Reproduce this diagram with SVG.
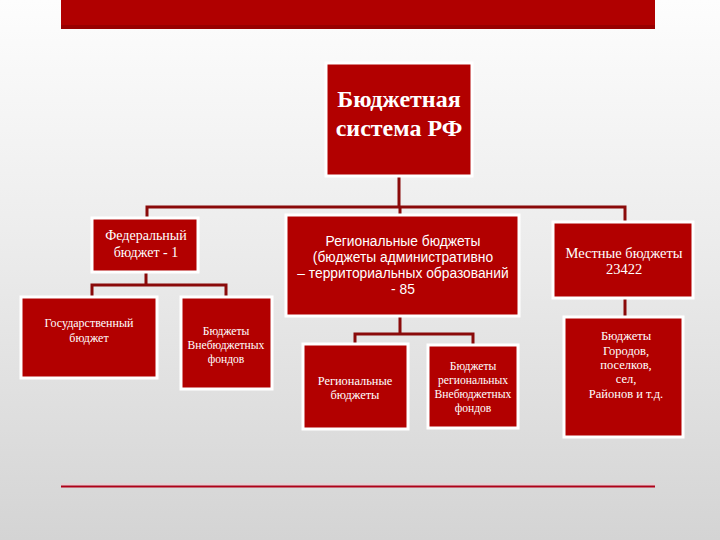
<svg xmlns="http://www.w3.org/2000/svg" width="720" height="540" viewBox="0 0 720 540">
<defs>
<linearGradient id="bg" x1="0" y1="0" x2="0" y2="1">
<stop offset="0" stop-color="#fdfdfd"/>
<stop offset="0.45" stop-color="#ececec"/>
<stop offset="1" stop-color="#d4d4d4"/>
</linearGradient>
</defs>
<style>
.box{fill:#b20000;stroke:#ffffff;stroke-width:3}
.ln{fill:none;stroke:#8a0a0a;stroke-width:3}
.serif{font-family:'Liberation Serif','Times New Roman',serif;font-weight:normal;fill:#ffffff;text-anchor:middle}
.sans{font-family:'Liberation Sans',Arial,sans-serif;fill:#ffffff;text-anchor:middle}
</style>
<rect width="720" height="540" fill="url(#bg)"/>
<rect x="61" y="0" width="594" height="29" fill="#b00000"/>
<rect x="61" y="25" width="594" height="4" fill="#980000"/>
<g id="connectors">
<path class="ln" d="M399 176 V207 M147 218 V207 H625 V222 M400 207 V216"/>
<path class="ln" d="M146 272 V285 M92 297 V285 H226 V297"/>
<path class="ln" d="M400 316 V334 M355 345 V334 H473 V345"/>
<path class="ln" d="M625 298 V318"/>
</g>
<g id="root">
<rect class="box" x="326" y="63" width="146" height="113"/>
<text class="serif" font-size="24" style="font-weight:bold" x="399" y="107">Бюджетная</text>
<text class="serif" font-size="24" style="font-weight:bold" x="399" y="136">система РФ</text>
</g>
<g id="federal">
<rect class="box" x="92" y="218" width="106" height="54"/>
<text class="serif" font-size="14" x="146" y="240">Федеральный</text>
<text class="serif" font-size="14" x="146" y="257">бюджет - 1</text>
</g>
<g id="state">
<rect class="box" x="21" y="297" width="136" height="81"/>
<text class="serif" font-size="12" x="89" y="327">Государственный</text>
<text class="serif" font-size="12" x="89" y="342">бюджет</text>
</g>
<g id="extra">
<rect class="box" x="181" y="297" width="91" height="92"/>
<text class="serif" font-size="11.6" x="226" y="335">Бюджеты</text>
<text class="serif" font-size="11.6" x="226" y="349">Внебюджетных</text>
<text class="serif" font-size="11.6" x="226" y="363">фондов</text>
</g>
<g id="regional">
<rect class="box" x="286" y="215" width="233" height="101"/>
<text class="sans" font-size="13.8" x="403" y="246">Региональные бюджеты</text>
<text class="sans" font-size="13.8" x="403" y="262">(бюджеты административно</text>
<text class="sans" font-size="13.8" x="403" y="278">– территориальных образований</text>
<text class="sans" font-size="13.8" x="403" y="294">- 85</text>
</g>
<g id="regbudgets">
<rect class="box" x="303" y="344" width="105" height="85"/>
<text class="serif" font-size="12.4" x="355" y="385">Региональные</text>
<text class="serif" font-size="12.4" x="355" y="399">бюджеты</text>
</g>
<g id="regextra">
<rect class="box" x="428" y="345" width="90" height="83"/>
<text class="serif" font-size="11.6" x="473" y="370">Бюджеты</text>
<text class="serif" font-size="11.6" x="473" y="384">региональных</text>
<text class="serif" font-size="11.6" x="473" y="398">Внебюджетных</text>
<text class="serif" font-size="11.6" x="473" y="412">фондов</text>
</g>
<g id="local">
<rect class="box" x="553" y="222" width="140" height="76"/>
<text class="serif" font-size="14.5" x="624" y="258">Местные бюджеты</text>
<text class="serif" font-size="14.5" x="624" y="274">23422</text>
</g>
<g id="cities">
<rect class="box" x="564" y="317" width="119" height="120"/>
<text class="serif" font-size="12.5" x="626" y="340">Бюджеты</text>
<text class="serif" font-size="12.5" x="626" y="355">Городов,</text>
<text class="serif" font-size="12.5" x="626" y="369">поселков,</text>
<text class="serif" font-size="12.5" x="626" y="383">сел,</text>
<text class="serif" font-size="12.5" x="626" y="398">Районов и т.д.</text>
</g>
<line x1="61" y1="484" x2="655" y2="484" stroke="#f2c8d0" stroke-width="1"/>
<line x1="61" y1="486.5" x2="655" y2="486.5" stroke="#b00018" stroke-width="2"/>
</svg>
